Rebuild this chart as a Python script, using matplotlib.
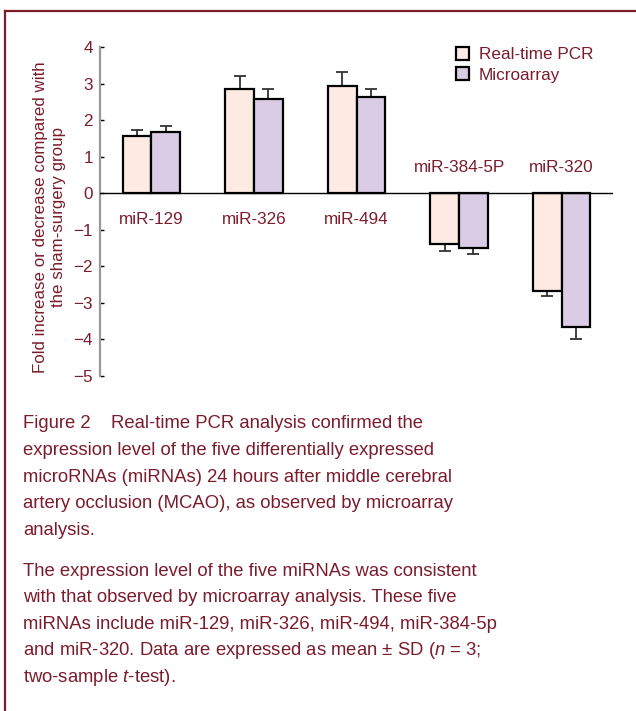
import matplotlib
matplotlib.use('Agg')
import matplotlib.pyplot as plt
from matplotlib.patches import Patch
import numpy as np

# data
genes = ['miR-129', 'miR-326', 'miR-494', 'miR-384-5P', 'miR-320']
pcr_mean = [1.56, 2.85, 2.93, -1.38, -2.68]
pcr_sd = [0.18, 0.35, 0.38, 0.20, 0.14]
array_mean = [1.67, 2.57, 2.63, -1.51, -3.65]
array_sd = [0.18, 0.28, 0.22, 0.16, 0.35]
series_names = ['Real-time PCR', 'Microarray']
yticks = [4, 3, 2, 1, 0, -1, -2, -3, -4, -5]

caption_p1 = ['Figure 2    Real-time PCR analysis confirmed the',
              'expression level of the five differentially expressed',
              'microRNAs (miRNAs) 24 hours after middle cerebral',
              'artery occlusion (MCAO), as observed by microarray',
              'analysis.']
caption_p2 = ['The expression level of the five miRNAs was consistent',
              'with that observed by microarray analysis. These five',
              'miRNAs include miR-129, miR-326, miR-494, miR-384-5p',
              r'and miR-320. Data are expressed as mean $\pm$ SD ($\mathit{n}$ = 3;',
              r'two-sample $\mathit{t}$-test).']

dark_red = '#7b1c2c'
pcr_color = '#fdebe3'
array_color = '#d9cce4'

plt.rcParams['font.family'] = ['Liberation Sans', 'DejaVu Sans']
plt.rcParams['mathtext.fontset'] = 'custom'
plt.rcParams['mathtext.rm'] = 'Liberation Sans'
plt.rcParams['mathtext.it'] = 'Liberation Sans:italic'

fig = plt.figure(figsize=(6.36, 7.11), dpi=100)
ax = fig.add_axes([100/636, 1-376/711, 513/636, 329/711])

x = np.arange(len(genes))
w = 0.28
bar_kw = dict(edgecolor='black', linewidth=1.6, zorder=3)
ax.bar(x - w/2, pcr_mean, w, color=pcr_color, **bar_kw)
ax.bar(x + w/2, array_mean, w, color=array_color, **bar_kw)

# one-sided error bars (away from zero)
for xs, m, s in [(x - w/2, pcr_mean, pcr_sd), (x + w/2, array_mean, array_sd)]:
    m = np.array(m)
    s = np.array(s)
    lower = np.where(m < 0, s, 0)
    upper = np.where(m > 0, s, 0)
    ax.errorbar(xs, m, yerr=[lower, upper], fmt='none', ecolor='#333333',
                elinewidth=1.3, capsize=4, capthick=1.3, zorder=2)

ax.axhline(0, color='black', lw=1, zorder=4)

for i, g in enumerate(genes):
    ypos = -0.72 if pcr_mean[i] > 0 else 0.70
    ax.text(x[i], ypos, g, ha='center', va='center', fontsize=12.3, color=dark_red)

ax.set_xlim(-0.5, 4.5)
ax.set_ylim(-5, 4)
ax.set_yticks(yticks)
ax.set_yticklabels([str(t).replace('-', '\u2212') for t in yticks])
ax.tick_params(axis='y', direction='in', colors='black', labelcolor=dark_red,
               labelsize=12.3, length=3, width=1, pad=5)
ax.set_xticks([])
for side in ['top', 'right', 'bottom']:
    ax.spines[side].set_visible(False)
ax.spines['left'].set_color('#999999')
ax.spines['left'].set_linewidth(1.6)
ax.patch.set_visible(False)

fig.text(50/636, 1-217/711,
         'Fold increase or decrease compared with\nthe sham-surgery group',
         rotation=90, ha='center', va='center', fontsize=12.2, color=dark_red,
         linespacing=1.25)

handles = [Patch(facecolor=pcr_color, edgecolor='black', linewidth=1.6),
           Patch(facecolor=array_color, edgecolor='black', linewidth=1.6)]
fig.legend(handles, series_names, loc='upper left',
           bbox_to_anchor=(456/636, 1-47/711), frameon=False, fontsize=12.3,
           labelcolor=dark_red, handlelength=0.75, handleheight=0.75,
           handletextpad=0.6, labelspacing=0.3, borderpad=0, borderaxespad=0)

# caption
y0 = 1 - 424/711
step = 26.6/711
for i, line in enumerate(caption_p1):
    fig.text(23/636, y0 - i*step, line, ha='left', va='center',
             fontsize=13.3, color=dark_red)
y1 = 1 - 571/711
for i, line in enumerate(caption_p2):
    fig.text(23/636, y1 - i*step, line, ha='left', va='center',
             fontsize=13.3, color=dark_red)

# frame lines (top and left)
fig.add_artist(plt.Line2D([5/636, 1], [1-11/711, 1-11/711], color=dark_red, lw=1.6,
                          transform=fig.transFigure))
fig.add_artist(plt.Line2D([5/636, 5/636], [0, 1-11/711], color=dark_red, lw=1.6,
                          transform=fig.transFigure))

fig.savefig('out.png', dpi=100)
